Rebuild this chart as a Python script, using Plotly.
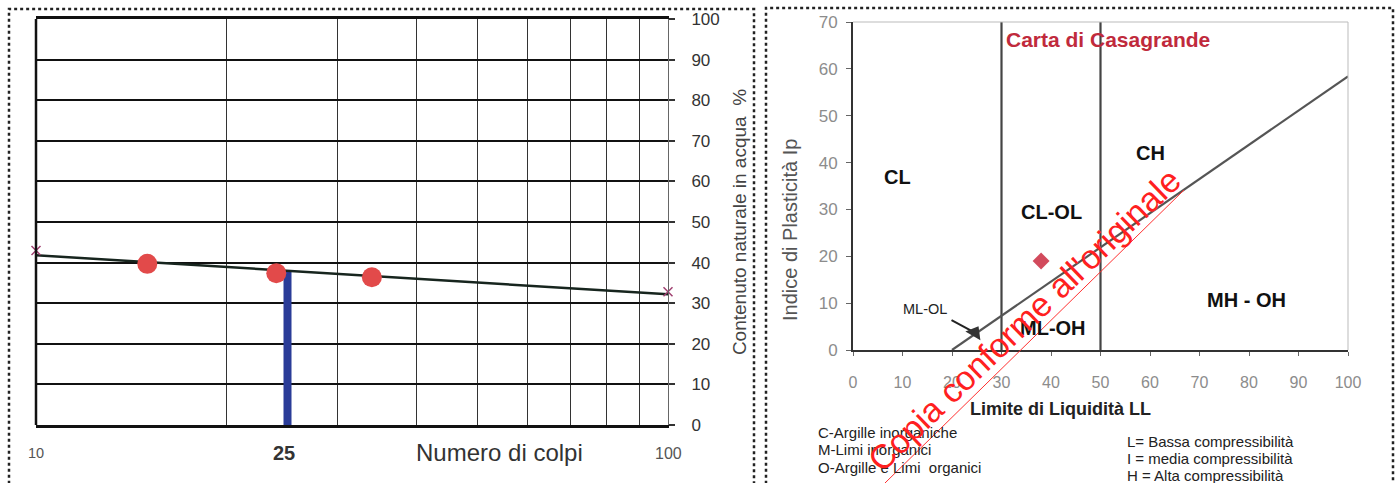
import numpy as np
import plotly.graph_objects as go

W, H = 1396, 483

# ---------------- data: left chart (Limite di liquidità) ----------------
colpi = [15, 24, 34]                     # number of blows
umidita = [39.7, 37.4, 36.4]             # water content %
trend_x = [10, 100]
trend_y = [41.8, 32.2]
end_marks_x = [10, 100]
end_marks_y = [43.0, 32.8]
wl_colpi = [25, 25]
wl_vals = [0, 38]
left_grid_x = [20, 30, 40, 50, 60, 70, 80, 90]
left_x_labels = ["10", "25", "100"]
left_x_label_vals = [10, 25, 100]

# ---------------- data: right chart (Carta di Casagrande) ----------------
sample_LL = [38]
sample_IP = [19]
aline_LL = [20, 100]
aline_IP = [0, 58.4]
bound_LL = [30, 50]
bound_IP = [0, 70]
mlol_arrow_LL = [19.9, 24.6]
mlol_arrow_IP = [6.4, 3.7]
zone_labels = ["CL", "CL-OL", "CH", "ML-OH", "MH - OH"]
zone_LL = [9, 40, 60, 40.5, 79.5]
zone_IP = [37, 29.5, 42, 4.7, 10.7]

legend_left = ["C-Argille inorganiche", "M-Limi inorganici", "O-Argille e Limi  organici"]
legend_right = ["L= Bassa compressibilità", "I = media compressibilità", "H = Alta compressibilità"]


def px(x):
    return x / W


def py(y):
    return 1 - y / H


fig = go.Figure()

# left chart traces
fig.add_trace(go.Scatter(x=wl_colpi, y=wl_vals, mode="lines",
                         line=dict(color="#2a3c98", width=8), xaxis="x", yaxis="y", showlegend=False))
fig.add_trace(go.Scatter(x=trend_x, y=trend_y, mode="lines",
                         line=dict(color="#17251e", width=2.5), xaxis="x", yaxis="y", showlegend=False))
fig.add_trace(go.Scatter(x=colpi, y=umidita, mode="markers",
                         marker=dict(color="#e24a4a", size=20, line=dict(width=0)),
                         xaxis="x", yaxis="y", showlegend=False))
fig.add_trace(go.Scatter(x=end_marks_x, y=end_marks_y, mode="markers",
                         marker=dict(symbol="x-thin", color="#a04070", size=9, line=dict(width=1.5, color="#a04070")),
                         xaxis="x", yaxis="y", showlegend=False, cliponaxis=False))

# right chart traces
for b in bound_LL:
    fig.add_trace(go.Scatter(x=[b, b], y=bound_IP, mode="lines",
                             line=dict(color="#444444", width=2.2), xaxis="x2", yaxis="y2", showlegend=False))
fig.add_trace(go.Scatter(x=aline_LL, y=aline_IP, mode="lines",
                         line=dict(color="#555555", width=2.2), xaxis="x2", yaxis="y2", showlegend=False))
fig.add_trace(go.Scatter(x=mlol_arrow_LL, y=mlol_arrow_IP, mode="lines",
                         line=dict(color="#222222", width=2), xaxis="x2", yaxis="y2", showlegend=False))
fig.add_trace(go.Scatter(x=[mlol_arrow_LL[1]], y=[mlol_arrow_IP[1]], mode="markers",
                         marker=dict(symbol="triangle-up", color="#333333", size=15, angle=30),
                         xaxis="x2", yaxis="y2", showlegend=False))
fig.add_trace(go.Scatter(x=sample_LL, y=sample_IP, mode="markers",
                         marker=dict(symbol="diamond", color="#d24a5c", size=13),
                         xaxis="x2", yaxis="y2", showlegend=False))

annotations = []


def ann(**kw):
    d = dict(showarrow=False, xanchor="center", yanchor="middle")
    d.update(kw)
    annotations.append(d)


# left x labels
lab_size = {"10": 14.5, "25": 20, "100": 16}
for lab, v in zip(left_x_labels, left_x_label_vals):
    bold = lab == "25"
    ann(x=np.log10(v) + (-0.006 if bold else 0), xref="x", y=py(453), yref="paper",
        text=f"<b>{lab}</b>" if bold else lab,
        font=dict(size=lab_size[lab], color="#333333" if bold else "#555555"))
ann(x=px(499), y=py(452), xref="paper", yref="paper", text="Numero di colpi",
    font=dict(size=24, color="#333333"))

# right chart text
ann(x=px(1108), y=py(40), xref="paper", yref="paper", text="<b>Carta di Casagrande</b>",
    font=dict(size=21, color="#c02a3c"))
for t, xv, yv in zip(zone_labels, zone_LL, zone_IP):
    ann(x=xv, y=yv, xref="x2", yref="y2", text=f"<b>{t}</b>", font=dict(size=20, color="#111111"))
ann(x=14.5, y=8.8, xref="x2", yref="y2", text="ML-OL", font=dict(size=14.5, color="#222222"))
ann(x=px(790), y=py(230), xref="paper", yref="paper", text="Indice di Plasticità Ip",
    textangle=-90, font=dict(size=20, color="#555555"))
ann(x=px(1060), y=py(409), xref="paper", yref="paper", text="<b>Limite di Liquidità LL</b>",
    font=dict(size=18, color="#222222"))
for i, t in enumerate(legend_left):
    ann(x=px(816), y=py(432 + 17.5 * i), xref="paper", yref="paper", text=t,
        xanchor="left", font=dict(size=15, color="#222222"))
for i, t in enumerate(legend_right):
    ann(x=px(1125), y=py(441 + 17 * i), xref="paper", yref="paper", text=t,
        xanchor="left", font=dict(size=15, color="#222222"))

# watermark
ann(x=px(1024), y=py(320), xref="paper", yref="paper", text="Copia conforme all'originale",
    textangle=-44, font=dict(size=34, color="#ff2020"))

shapes = [
    # dotted frames
    dict(type="rect", xref="paper", yref="paper", x0=px(9), x1=px(754), y0=-0.05, y1=py(9),
         line=dict(color="#222222", width=2.5, dash="dot")),
    dict(type="rect", xref="paper", yref="paper", x0=px(766), x1=px(1393), y0=-0.05, y1=py(8),
         line=dict(color="#222222", width=2.5, dash="dot")),
    # left chart left border
    dict(type="line", xref="x domain", yref="y domain", x0=0, x1=0, y0=0, y1=1,
         line=dict(color="#111111", width=2.5)),
    # right chart top/right borders
    dict(type="line", xref="x2 domain", yref="y2 domain", x0=0, x1=1, y0=1, y1=1,
         line=dict(color="#bbbbbb", width=1)),
    dict(type="line", xref="x2 domain", yref="y2 domain", x0=1, x1=1, y0=0, y1=1,
         line=dict(color="#bbbbbb", width=1)),
    # watermark underline
    dict(type="line", xref="paper", yref="paper", x0=px(885), y0=py(483), x1=px(1184), y1=py(190),
         line=dict(color="#ff3030", width=1)),
]

fig.update_layout(
    width=W, height=H, margin=dict(l=0, r=0, t=0, b=0, autoexpand=False),
    paper_bgcolor="white", plot_bgcolor="white",
    font=dict(family="Arial, Liberation Sans, sans-serif"),
    showlegend=False,
    xaxis=dict(domain=[px(36), px(668)], type="log", range=[1, 2], tickvals=left_grid_x,
               showticklabels=False, ticks="", showgrid=True, gridcolor="#333333", gridwidth=1,
               showline=True, linecolor="#111111", linewidth=2.5, mirror=True, zeroline=False,
               anchor="y", automargin=False),
    yaxis=dict(domain=[py(425), py(19)], range=[0, 100], dtick=10, side="right", anchor="x",
               showgrid=True, gridcolor="#111111", gridwidth=2,
               ticks="outside", ticklen=6, tickwidth=1.5, tickcolor="#333333",
               tickfont=dict(size=17, color="#333333"), ticklabelstandoff=13,
               showline=True, linecolor="#666666", linewidth=1, zeroline=False, automargin=False,
               title=dict(text="Contenuto naturale in acqua  %", font=dict(size=19, color="#444444"),
                          standoff=13)),
    xaxis2=dict(domain=[px(853), px(1348)], range=[0, 100], dtick=10, anchor="y2",
                showgrid=False, zeroline=False, showline=True, linecolor="#333333", linewidth=2,
                ticks="outside", ticklen=4, tickcolor="#666666", automargin=False,
                tickfont=dict(size=16, color="#8c8c8c"), ticklabelstandoff=13),
    yaxis2=dict(domain=[py(350), py(22)], range=[0, 70], dtick=10, anchor="x2",
                showgrid=False, zeroline=False, showline=True, linecolor="#333333", linewidth=2,
                ticks="outside", ticklen=5, tickcolor="#666666", automargin=False,
                tickfont=dict(size=17, color="#8c8c8c"), ticklabelstandoff=5),
    annotations=annotations,
    shapes=shapes,
)

fig.write_html("out.html")
